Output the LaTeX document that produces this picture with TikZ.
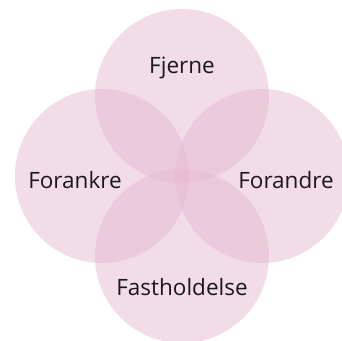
\documentclass[tikz,border=0pt]{standalone}
\usepackage{fontspec}
\setmainfont{Open Sans}
\definecolor{petal}{RGB}{229,185,209}
\begin{document}
\begin{tikzpicture}[x=1pt,y=-1pt,
    petal/.style={circle, fill=petal, fill opacity=0.5, minimum size=174pt, inner sep=0pt},
    lbl/.style={font=\fontsize{22.5}{26}\selectfont, text=black!90}]
  \useasboundingbox (0,0) rectangle (342,340);
  % the four circles
  \node[petal] (top)    at (182,96)  {};
  \node[petal] (left)   at (102,176) {};
  \node[petal] (right)  at (262,176) {};
  \node[petal] (bottom) at (182,256) {};
  % labels
  \node[lbl] (fjerne) at (182,68)  {Fjerne};
  \node[lbl] (forankre) at (75,180) {Forankre};
  \node[lbl] (forandre) at (286,180) {Forandre};
  \node[lbl] (fast) at (182,287) {Fastholdelse};
\end{tikzpicture}
\end{document}
